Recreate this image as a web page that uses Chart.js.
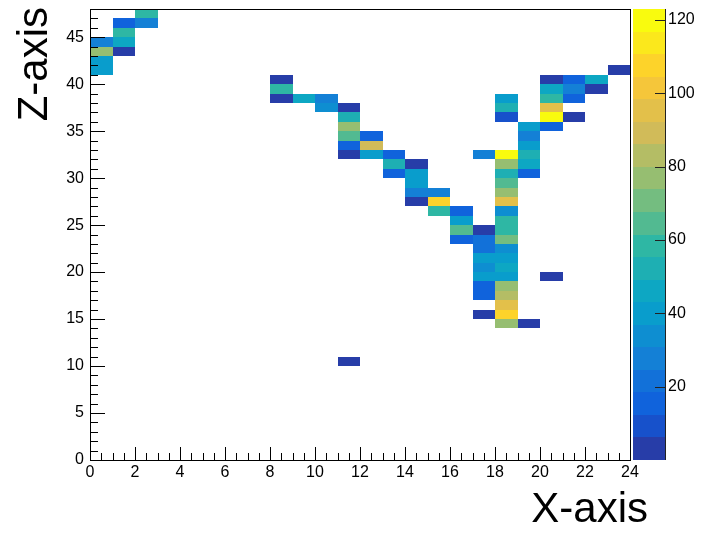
<!DOCTYPE html>
<html><head><meta charset="utf-8">
<script src="https://cdn.jsdelivr.net/npm/chart.js@4.4.0/dist/chart.umd.min.js"></script>
<style>html,body{margin:0;padding:0;background:#fff;}</style>
</head><body>
<canvas id="c" width="705" height="533"></canvas>
<script>
// ---- data (bin lower edges and bin contents) ----
const cellX = [2,1,2,1,0,1,0,1,0,0,23,8,20,21,22,8,20,21,22,8,9,10,18,20,21,10,11,18,20,11,18,20,21,11,19,20,11,12,19,11,12,19,11,12,13,17,18,19,13,14,18,19,13,14,18,19,14,18,14,15,18,14,15,18,15,16,18,16,18,16,17,18,16,17,18,17,18,17,18,17,18,17,18,20,17,18,17,18,18,17,18,18,19,11];
const cellZ = [47,46,46,45,44,44,43,43,42,41,41,40,40,40,40,39,39,39,39,38,38,38,38,38,38,37,37,37,37,36,36,36,36,35,35,35,34,34,34,33,33,33,32,32,32,32,32,32,31,31,31,31,30,30,30,30,29,29,28,28,28,27,27,27,26,26,26,25,25,24,24,24,23,23,23,22,22,21,21,20,20,19,19,19,18,18,17,17,16,15,15,14,14,10];
const cellCount = [60,15,30,60,30,48,78,4,42,42,4,4,4,17,46,60,45,30,4,4,48,30,42,58,17,32,4,52,95,52,12,122,4,74,42,17,66,15,28,17,88,42,4,42,17,30,120,52,50,4,74,45,17,42,55,17,42,63,30,30,74,4,108,95,57,17,35,42,60,66,4,60,17,20,68,20,32,42,42,35,46,42,40,4,15,74,15,82,95,4,105,74,4,4];
const xTicks = [0,2,4,6,8,10,12,14,16,18,20,22,24];
const zTicks = [0,5,10,15,20,25,30,35,40,45];
const colorTicks = [20,40,60,80,100,120];
const xRange = [0,24];
const zRange = [0,48];
const countRange = [0,123];
const nLevels = 20;

// ---- kBird palette (ROOT) ----
const birdStops = [0,0.125,0.25,0.375,0.5,0.625,0.75,0.875,1];
const birdR = [0.2082,0.0592,0.0780,0.0232,0.1802,0.5301,0.8186,0.9956,0.9764];
const birdG = [0.1664,0.3599,0.5041,0.6419,0.7178,0.7492,0.7328,0.7862,0.9832];
const birdB = [0.5293,0.8684,0.8385,0.7914,0.6425,0.4662,0.3499,0.1968,0.0539];
const nPal = 255;
function bird(t){
  t = Math.max(0, Math.min(1, t));
  let k = 0;
  while (k < birdStops.length-2 && t > birdStops[k+1]) k++;
  const f = (t - birdStops[k])/(birdStops[k+1]-birdStops[k]);
  const c = a => Math.round(255*(a[k] + f*(a[k+1]-a[k])));
  return `rgb(${c(birdR)},${c(birdG)},${c(birdB)})`;
}
function levelColor(i){
  const idx = Math.min(nPal-1, Math.floor((i+0.99)*nPal/nLevels));
  return bird(idx/(nPal-1));
}
function valueLevel(v){
  let i = Math.floor((v-countRange[0])/(countRange[1]-countRange[0])*nLevels);
  return Math.max(0, Math.min(nLevels-1, i));
}

const FONT = '"Liberation Sans", Arial, Helvetica, sans-serif';

const histPlugin = {
  id: 'hist2d',
  afterDatasetsDraw(chart){
    const ctx = chart.ctx, xs = chart.scales.x, ys = chart.scales.y, cs = chart.scales.c;
    const a = chart.chartArea;
    ctx.save();
    // cells
    const pts = chart.data.datasets[0].data;
    pts.forEach(p => {
      const x0 = xs.getPixelForValue(p.x0), x1 = xs.getPixelForValue(p.x0+1);
      const y0 = ys.getPixelForValue(p.z0), y1 = ys.getPixelForValue(p.z0+1);
      ctx.fillStyle = levelColor(valueLevel(p.v));
      ctx.fillRect(Math.round(x0), Math.round(y1), Math.round(x1)-Math.round(x0), Math.round(y0)-Math.round(y1));
    });
    // frame
    ctx.strokeStyle = '#000';
    ctx.lineWidth = 1;
    ctx.strokeRect(Math.round(a.left)+0.5, Math.round(a.top)+0.5, Math.round(a.right-a.left), Math.round(a.bottom-a.top));
    // x ticks (inward)
    ctx.beginPath();
    for (let v = xRange[0]; v <= xRange[1]+1e-9; v += 0.5){
      const px = Math.round(xs.getPixelForValue(v))+0.5;
      const major = Math.abs(v/2 - Math.round(v/2)) < 1e-9;
      ctx.moveTo(px, a.bottom);
      ctx.lineTo(px, a.bottom - (major ? 13 : 7));
    }
    // y ticks (inward)
    for (let v = zRange[0]; v <= zRange[1]+1e-9; v += 1){
      const py = Math.round(ys.getPixelForValue(v))+0.5;
      const major = v % 5 === 0;
      ctx.moveTo(a.left, py);
      ctx.lineTo(a.left + (major ? 15 : 8), py);
    }
    ctx.stroke();
    // colour bar
    const bl = Math.round(a.right)+3, br = bl + 32;
    for (let i = 0; i < nLevels; i++){
      const v0 = countRange[0] + i*(countRange[1]-countRange[0])/nLevels;
      const v1 = countRange[0] + (i+1)*(countRange[1]-countRange[0])/nLevels;
      const y0 = Math.round(cs.getPixelForValue(v0)), y1 = Math.round(cs.getPixelForValue(v1));
      ctx.fillStyle = levelColor(i);
      ctx.fillRect(bl, y1, br-bl, y0-y1);
    }
    ctx.beginPath();
    ctx.moveTo(br+0.5, Math.round(a.top)); ctx.lineTo(br+0.5, Math.round(a.bottom));
    colorTicks.forEach(v => {
      const py = Math.round(cs.getPixelForValue(v))+0.5;
      ctx.moveTo(br, py); ctx.lineTo(br-10, py);
    });
    ctx.strokeStyle = '#222';
    ctx.stroke();
    // axis titles
    ctx.fillStyle = '#000';
    ctx.font = `42px ${FONT}`;
    ctx.textBaseline = 'alphabetic';
    ctx.textAlign = 'right';
    ctx.fillText('X-axis', a.right + 18, a.bottom + 62);
    ctx.save();
    ctx.translate(a.left - 43, a.top - 2);
    ctx.rotate(-Math.PI/2);
    ctx.textAlign = 'right';
    ctx.fillText('Z-axis', 0, 0);
    ctx.restore();
    ctx.restore();
  }
};

function fixTicks(list){ return s => { s.ticks = list.map(v => ({value: v})); }; }

new Chart(document.getElementById('c'), {
  type: 'scatter',
  data: { datasets: [{
    data: cellX.map((x,i) => ({x: x+0.5, y: cellZ[i]+0.5, x0: x, z0: cellZ[i], v: cellCount[i]})),
    pointRadius: 0, pointHoverRadius: 0, showLine: false
  }]},
  options: {
    responsive: false, animation: false, events: [],
    layout: { padding: { top: 9, left: 0, right: 0, bottom: 0 } },
    plugins: { legend: {display:false}, tooltip: {enabled:false} },
    scales: {
      x: {
        type: 'linear', min: xRange[0], max: xRange[1],
        grid: {display:false, drawTicks:false}, border: {display:false},
        ticks: {color:'#000', font:{family:FONT, size:16}, padding:3, maxRotation:0, autoSkip:false},
        afterBuildTicks: fixTicks(xTicks),
        afterFit: s => { s.height = 73; s.paddingLeft = 0; s.paddingRight = 0; }
      },
      y: {
        type: 'linear', position: 'left', min: zRange[0], max: zRange[1],
        grid: {display:false, drawTicks:false}, border: {display:false},
        ticks: {color:'#000', font:{family:FONT, size:16}, padding:6, autoSkip:false},
        afterBuildTicks: fixTicks(zTicks),
        afterFit: s => { s.width = 90; s.paddingTop = 0; s.paddingBottom = 0; }
      },
      c: {
        type: 'linear', position: 'right', min: countRange[0], max: countRange[1],
        grid: {display:false, drawTicks:false}, border: {display:false},
        ticks: {color:'#000', font:{family:FONT, size:16}, padding:38, autoSkip:false},
        afterBuildTicks: fixTicks(colorTicks),
        afterFit: s => { s.width = 75; s.paddingTop = 0; s.paddingBottom = 0; }
      }
    }
  },
  plugins: [histPlugin]
});
</script>
</body></html>
